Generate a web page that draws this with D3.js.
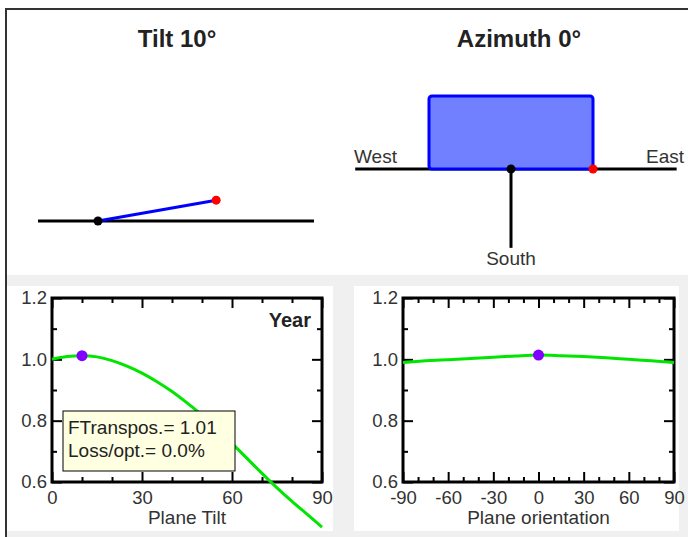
<!DOCTYPE html>
<html>
<head>
<meta charset="utf-8">
<script src="https://cdn.jsdelivr.net/npm/d3@7"></script>
<style>
  body { margin: 0; background: #fff; }
  svg { display: block; font-family: "Liberation Sans", Arial, sans-serif; }
  .tick text { font-size: 18.5px; fill: #333; }
  .tick line { stroke: #000; stroke-width: 2; }
</style>
</head>
<body>
<div class="interactive-wrapper"></div>
<script>
const planeTilt = 10;
const planeAzimuth = 0;

const tiltAngles = [0, 5, 10, 15, 20, 25, 30, 35, 40, 45, 50, 55, 60, 65, 70, 75, 80, 85, 90];
const tiltFactor = [1.000, 1.009, 1.012, 1.008, 0.996, 0.978, 0.955, 0.927, 0.895, 0.858, 0.818, 0.773, 0.726, 0.677, 0.628, 0.581, 0.537, 0.495, 0.453];

const orientAngles = [-90, -75, -60, -45, -30, -15, 0, 15, 30, 45, 60, 75, 90];
const orientFactor = [0.990, 0.995, 0.999, 1.003, 1.007, 1.011, 1.014, 1.012, 1.009, 1.005, 1.000, 0.995, 0.990];

const yMajor = [0.6, 0.8, 1.0, 1.2];
const yMinor = [0.7, 0.9, 1.1];
const tiltMajor = [0, 30, 60, 90];
const tiltMinor = [10, 20, 40, 50, 70, 80];
const orientMajor = [-90, -60, -30, 0, 30, 60, 90];
const orientMinor = [-80, -70, -50, -40, -20, -10, 10, 20, 40, 50, 70, 80];

const infoLines = ["FTranspos.= 1.01", "Loss/opt.= 0.0%"];

const w = 688, h = 537;

const svg = d3.select(".interactive-wrapper").append("svg")
.attr("width", w)
.attr("height", h);

// background, frame and panels
svg.append("rect").attr("x", 7).attr("y", 275).attr("width", w - 7).attr("height", h - 275).attr("fill", "#f0f0f0");
svg.append("rect").attr("x", 7).attr("y", 286).attr("width", 326).attr("height", 245).attr("fill", "#fff");
svg.append("rect").attr("x", 354).attr("y", 286).attr("width", 325).attr("height", 245).attr("fill", "#fff");
svg.append("path").attr("d", "M6,537V9H688").attr("fill", "none").attr("stroke", "#333").attr("stroke-width", 2);

svg.append("text").text("Tilt " + planeTilt + "°")
.attr("x", 177).attr("y", 47)
.attr("text-anchor", "middle")
.style("font-size", "24px").style("font-weight", "bold").style("fill", "#222");

svg.append("text").text("Azimuth " + planeAzimuth + "°")
.attr("x", 519).attr("y", 47)
.attr("text-anchor", "middle")
.style("font-size", "24px").style("font-weight", "bold").style("fill", "#222");

// side view of the plane
let sideX = d3.scaleLinear().domain([-0.5, 1.8]).range([38, 314]);
let sideY = d3.scaleLinear().domain([0, 1]).range([221, 101]);
let rad = planeTilt * Math.PI / 180;

svg.append("line")
.attr("x1", sideX(-0.5)).attr("x2", sideX(1.8))
.attr("y1", sideY(0)).attr("y2", sideY(0))
.attr("stroke", "#000").attr("stroke-width", 3);

svg.append("line")
.attr("x1", sideX(0)).attr("y1", sideY(0))
.attr("x2", sideX(Math.cos(rad))).attr("y2", sideY(Math.sin(rad)))
.attr("stroke", "#0000ff").attr("stroke-width", 3);

svg.append("circle").attr("cx", sideX(0)).attr("cy", sideY(0)).attr("r", 4.5).attr("fill", "#000");
svg.append("circle").attr("cx", sideX(Math.cos(rad))).attr("cy", sideY(Math.sin(rad))).attr("r", 4.5).attr("fill", "#ff0000");

// plan view of the plane
let planX = d3.scaleLinear().domain([-1, 1]).range([429, 593]);
let planY = d3.scaleLinear().domain([0, 1]).range([169, 96]);

svg.append("line")
.attr("x1", planX(-1.9)).attr("x2", planX(2.02))
.attr("y1", planY(0)).attr("y2", planY(0))
.attr("stroke", "#000").attr("stroke-width", 3);

svg.append("rect")
.attr("x", planX(-1)).attr("y", planY(1))
.attr("width", planX(1) - planX(-1)).attr("height", planY(0) - planY(1))
.attr("rx", 3)
.attr("fill", "#7080ff").attr("stroke", "#0000ff").attr("stroke-width", 3);

svg.append("line")
.attr("x1", planX(0)).attr("x2", planX(0))
.attr("y1", planY(0)).attr("y2", planY(-1.08))
.attr("stroke", "#000").attr("stroke-width", 3);

svg.append("circle").attr("cx", planX(0)).attr("cy", planY(0)).attr("r", 4.5).attr("fill", "#000");
svg.append("circle").attr("cx", planX(1)).attr("cy", planY(0)).attr("r", 4.5).attr("fill", "#ff0000");

svg.append("text").text("West").attr("x", 354).attr("y", 163).style("font-size", "19px").style("fill", "#333");
svg.append("text").text("East").attr("x", 684).attr("y", 163).attr("text-anchor", "end").style("font-size", "19px").style("fill", "#333");
svg.append("text").text("South").attr("x", planX(0)).attr("y", 265).attr("text-anchor", "middle").style("font-size", "19px").style("fill", "#333");

// charts
let yScale = d3.scaleLinear().domain([0.6, 1.2]).range([482, 298]);

function drawChart(xScale, xs, ys, major, minor, title, markAt) {

	let g = svg.append("g");
	let x0 = xScale.range()[0], x1 = xScale.range()[1];
	let y0 = yScale.range()[0], y1 = yScale.range()[1];

	// each tick set in its own group, otherwise the second call rejoins the first
	function axis(gen, at, values, size, labels, pad) {
		g.append("g")
		.attr("transform", at)
		.call(gen.tickValues(values).tickSize(size).tickPadding(pad || 3).tickFormat(labels || ""));
	}

	axis(d3.axisBottom(xScale), "translate(0," + y0 + ")", major, -10, d => String(d), 9);
	axis(d3.axisBottom(xScale), "translate(0," + y0 + ")", minor, -5);
	axis(d3.axisTop(xScale), "translate(0," + y1 + ")", major, -10);
	axis(d3.axisTop(xScale), "translate(0," + y1 + ")", minor, -5);
	axis(d3.axisLeft(yScale), "translate(" + x0 + ",0)", yMajor, -10, d3.format(".1f"), 5);
	axis(d3.axisLeft(yScale), "translate(" + x0 + ",0)", yMinor, -5);
	axis(d3.axisRight(yScale), "translate(" + x1 + ",0)", yMajor, -10);
	axis(d3.axisRight(yScale), "translate(" + x1 + ",0)", yMinor, -5);

	g.selectAll(".domain").remove();

	g.append("rect")
	.attr("x", x0).attr("y", y1)
	.attr("width", x1 - x0).attr("height", y0 - y1)
	.attr("fill", "none").attr("stroke", "#000").attr("stroke-width", 3);

	let line = d3.line()
	.x((d, i) => xScale(xs[i]))
	.y(d => yScale(d))
	.curve(d3.curveCatmullRom);

	g.append("path")
	.datum(ys)
	.attr("d", line)
	.attr("fill", "none")
	.attr("stroke", "#00e600")
	.attr("stroke-width", 3);

	let k = xs.indexOf(markAt);
	g.append("circle")
	.attr("cx", xScale(xs[k])).attr("cy", yScale(ys[k]))
	.attr("r", 5.5).attr("fill", "#8000ff");

	g.append("text").text(title)
	.attr("x", (x0 + x1) / 2).attr("y", 524)
	.attr("text-anchor", "middle")
	.style("font-size", "19px").style("fill", "#333");

	return g;
}

let tiltX = d3.scaleLinear().domain([0, 90]).range([52, 322]);
let orientX = d3.scaleLinear().domain([-90, 90]).range([403, 674]);

let tiltChart = drawChart(tiltX, tiltAngles, tiltFactor, tiltMajor, tiltMinor, "Plane Tilt", planeTilt);
drawChart(orientX, orientAngles, orientFactor, orientMajor, orientMinor, "Plane orientation", planeAzimuth);

tiltChart.append("text").text("Year")
.attr("x", 311).attr("y", 327)
.attr("text-anchor", "end")
.style("font-size", "20px").style("font-weight", "bold").style("fill", "#222");

let box = tiltChart.append("g").attr("transform", "translate(63,411)");

box.append("rect")
.attr("width", 172).attr("height", 60)
.attr("fill", "#ffffe1").attr("stroke", "#000").attr("stroke-width", 1);

box.selectAll("text")
.data(infoLines)
.enter().append("text")
.text(d => d)
.attr("x", 5)
.attr("y", (d, i) => 23 + i * 23)
.style("font-size", "19px").style("fill", "#222");
</script>
</body>
</html>
